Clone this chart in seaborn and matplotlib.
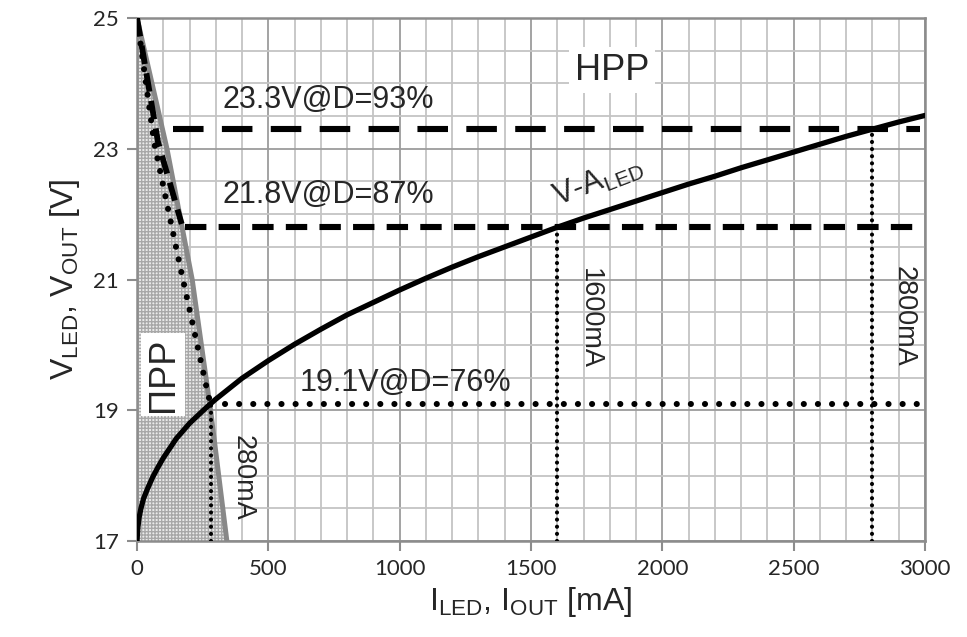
import numpy as np
import pandas as pd
import matplotlib
matplotlib.use("Agg")
import matplotlib.pyplot as plt
from matplotlib.ticker import MultipleLocator
import seaborn as sns

# LED V-A characteristic (mA, V)
led_current = [0, 3, 8, 15, 25, 40, 60, 80, 100, 150, 200, 250, 280, 300,
               350, 400, 500, 600, 700, 800, 900, 1000, 1100, 1200, 1300,
               1400, 1500, 1600, 1700, 1800, 1900, 2000, 2100, 2200, 2300,
               2400, 2500, 2600, 2700, 2800, 2900, 3000]
led_voltage = [17.0, 17.2, 17.36, 17.5, 17.65, 17.8, 17.98, 18.13, 18.27,
               18.57, 18.8, 18.99, 19.1, 19.17, 19.33, 19.49, 19.76, 20.01,
               20.24, 20.46, 20.65, 20.84, 21.02, 21.19, 21.35, 21.5, 21.65,
               21.8, 21.94, 22.07, 22.2, 22.33, 22.46, 22.58, 22.71, 22.83,
               22.95, 23.07, 23.19, 23.3, 23.41, 23.51]

# PPR boundary (gray) and its approximations
ppr_voltage = [25.0, 23.0, 21.0, 19.0, 17.0]
ppr_current = [0, 114, 210, 280, 342]
dash_bound_voltage = [25.0, 23.1, 21.85]
dash_bound_current = [0, 80, 170]
dot_bound_voltage = [25.0, 23.1, 21.2, 19.25, 19.1]
dot_bound_current = [0, 65, 164, 270, 280]

# Operating points
op_voltage = [23.3, 21.8, 19.1]
op_current = [2800, 1600, 280]
op_labels = ["23.3V@D=93%", "21.8V@D=87%", "19.1V@D=76%"]
op_start = [137, 183, 335]
current_labels = ["2800mA", "1600mA", "280mA"]

x_ticks = [0, 500, 1000, 1500, 2000, 2500, 3000]
y_ticks = [17, 19, 21, 23, 25]

sns.set_theme(style="white")
plt.rcParams["font.family"] = ["Liberation Sans", "DejaVu Sans"]
plt.rcParams["mathtext.fontset"] = "custom"
plt.rcParams["mathtext.rm"] = "Liberation Sans"

fig = plt.figure(figsize=(9.67, 6.37), dpi=100)
ax = fig.add_axes([0.1417, 0.1507, 0.8149, 0.821])

ax.set_xlim(0, 3000)
ax.set_ylim(17, 25)

# grid
ax.xaxis.set_minor_locator(MultipleLocator(100))
ax.yaxis.set_minor_locator(MultipleLocator(0.5))
ax.grid(which="minor", color="#c4c4c4", linewidth=1.3, zorder=0)
ax.grid(which="major", color="#9c9c9c", linewidth=1.3, zorder=0)
ax.set_axisbelow(True)

# shaded PPR region
ax.fill_betweenx(ppr_voltage, 0, ppr_current, facecolor="#ebebeb",
                 edgecolor="#a8a8a8", hatch="+++++", linewidth=0, zorder=1)

# PPR boundary
ppr_df = pd.DataFrame({"I": ppr_current, "V": ppr_voltage})
sns.lineplot(data=ppr_df, x="I", y="V", sort=False, estimator=None,
             color="#888888", linewidth=3.6, ax=ax, zorder=3)

dash_df = pd.DataFrame({"I": dash_bound_current, "V": dash_bound_voltage})
sns.lineplot(data=dash_df, x="I", y="V", sort=False, estimator=None,
             color="black", linewidth=4.2, ax=ax, zorder=4)
ax.lines[-1].set_dashes([3.2, 1.6])

dot_df = pd.DataFrame({"I": dot_bound_current, "V": dot_bound_voltage})
sns.lineplot(data=dot_df, x="I", y="V", sort=False, estimator=None,
             color="black", linewidth=4.4, ax=ax, zorder=4)
ax.lines[-1].set_dashes([0.01, 2.1])
ax.lines[-1].set_dash_capstyle("round")

# operating point reference lines
h_styles = [dict(lw=4.4, dashes=[5.0, 3.0], cap="butt"),
            dict(lw=4.4, dashes=[3.5, 2.0], cap="butt"),
            dict(lw=4.4, dashes=[0.01, 2.3], cap="round")]
for v, start, st in zip(op_voltage, op_start, h_styles):
    ln, = ax.plot([start, 3000 - 20], [v, v], color="black",
                  linewidth=st["lw"], zorder=4)
    ln.set_dashes(st["dashes"])
    ln.set_dash_capstyle(st["cap"])

for i, v in zip(op_current, op_voltage):
    ln, = ax.plot([i, i], [17, v], color="black", linewidth=3.0, zorder=4)
    ln.set_dashes([0.01, 1.7])
    ln.set_dash_capstyle("round")

# LED curve
led_df = pd.DataFrame({"I": led_current, "V": led_voltage})
sns.lineplot(data=led_df, x="I", y="V", color="black", linewidth=3.8,
             ax=ax, zorder=5)

# labels
label_pos = [(324, 23.75), (324, 22.29), (620, 19.42)]
for (x, y), txt in zip(label_pos, op_labels):
    ax.text(x, y, txt, fontsize=22, ha="left", va="center", zorder=6)

cur_pos = [(2920, 20.44), (1724, 20.41), (403, 17.97)]
for (x, y), txt in zip(cur_pos, current_labels):
    ax.text(x, y, txt, fontsize=19.5, rotation=270, ha="center",
            va="center", zorder=6)

ax.text(1808, 24.2, "HPP", fontsize=26, ha="center", va="center", zorder=6,
        bbox=dict(facecolor="white", edgecolor="none", pad=4))
ax.text(99, 19.54, "ΠPP", fontsize=26, rotation=90, ha="center",
        va="center", zorder=6,
        bbox=dict(facecolor="white", edgecolor="none", pad=3))
ax.text(1755, 22.5, r"V-A$_{\mathregular{LED}}$", fontsize=22, rotation=21,
        ha="center", va="center", zorder=6)

# axes styling
for s in ax.spines.values():
    s.set_color("#8c8c8c")
    s.set_linewidth(1.8)
ax.set_xticks(x_ticks)
ax.set_yticks(y_ticks)
ax.tick_params(which="major", direction="out", length=7, width=1.5,
               color="#8c8c8c", labelsize=16, bottom=True, left=True, pad=6)
ax.tick_params(which="minor", length=0)
for lbl in ax.get_xticklabels() + ax.get_yticklabels():
    lbl.set_fontfamily("Lato")

ax.set_xlabel(r"$\mathregular{I_{LED}}$, $\mathregular{I_{OUT}}$ [mA]",
              fontsize=23, labelpad=4)
ax.set_ylabel(r"$\mathregular{V_{LED}}$, $\mathregular{V_{OUT}}$ [V]",
              fontsize=23, labelpad=8)

fig.savefig("out.png", dpi=100)
